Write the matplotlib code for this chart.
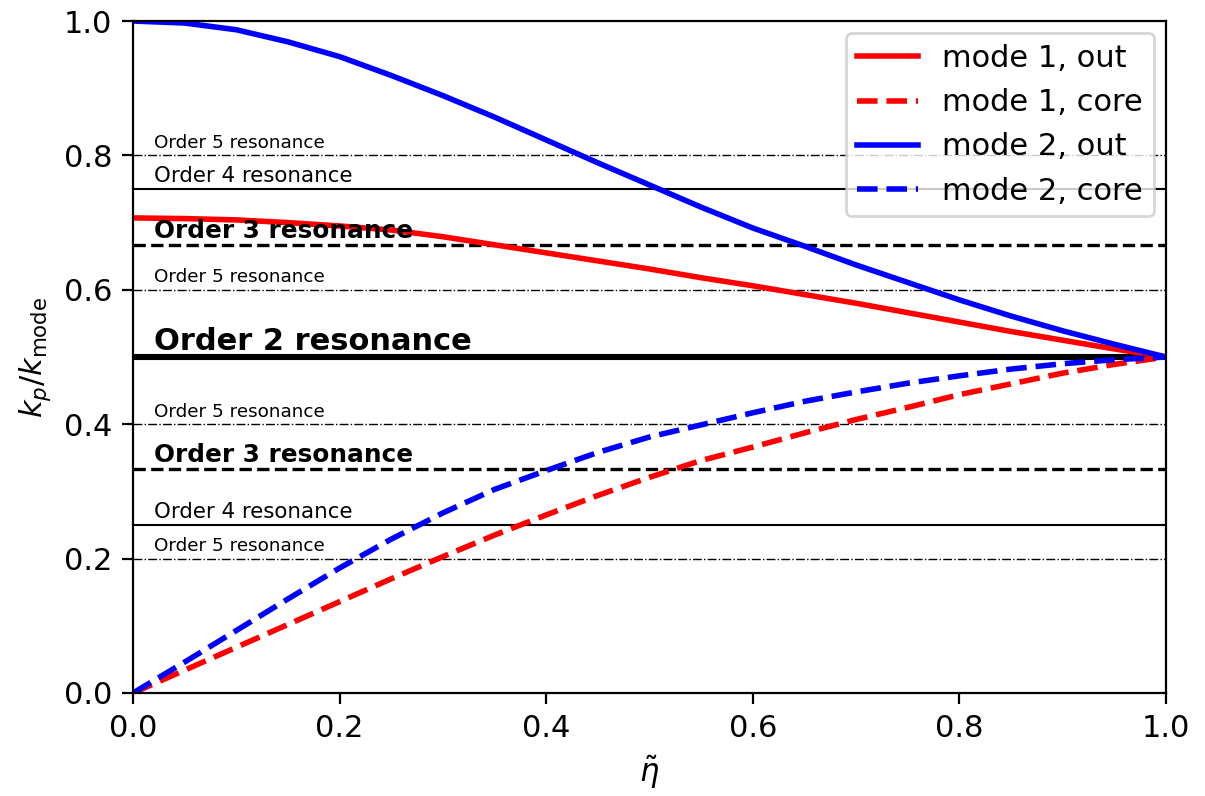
import matplotlib
matplotlib.use("Agg")
import matplotlib.pyplot as plt

plt.rcParams['font.size'] = 11
plt.rcParams['xtick.major.size'] = 3.9
plt.rcParams['ytick.major.size'] = 3.9

eta = [0.00, 0.05, 0.10, 0.15, 0.20, 0.25, 0.30, 0.35, 0.40, 0.45, 0.50,
       0.55, 0.60, 0.65, 0.70, 0.75, 0.80, 0.85, 0.90, 0.95, 1.00]

mode1_out = [0.707, 0.706, 0.704, 0.700, 0.695, 0.689, 0.679, 0.667, 0.655, 0.643, 0.631,
             0.618, 0.606, 0.593, 0.580, 0.566, 0.552, 0.538, 0.525, 0.512, 0.500]
mode1_core = [0.000, 0.034, 0.068, 0.102, 0.136, 0.170, 0.203, 0.235, 0.265, 0.294, 0.321,
              0.346, 0.366, 0.387, 0.407, 0.425, 0.444, 0.460, 0.476, 0.489, 0.500]
mode2_out = [1.000, 0.997, 0.987, 0.969, 0.947, 0.919, 0.889, 0.857, 0.823, 0.789, 0.756,
             0.723, 0.692, 0.665, 0.637, 0.611, 0.585, 0.561, 0.539, 0.519, 0.500]
mode2_core = [0.000, 0.046, 0.093, 0.140, 0.186, 0.229, 0.268, 0.303, 0.331, 0.358, 0.381,
              0.399, 0.417, 0.434, 0.448, 0.461, 0.472, 0.482, 0.490, 0.496, 0.500]

# resonance levels
res_levels = [0.8, 0.75, 2/3, 0.6, 0.5, 0.4, 1/3, 0.25, 0.2]
res_orders = [5, 4, 3, 5, 2, 5, 3, 4, 5]
res_labels = ["Order %d resonance" % o for o in res_orders]

style = {
    2: dict(ls='-', lw=2.2, fs=11, fw='bold'),
    3: dict(ls='--', lw=1.2, fs=8.9, fw='bold'),
    4: dict(ls='-', lw=0.75, fs=7.7, fw='normal'),
    5: dict(ls='-.', lw=0.5, fs=6.6, fw='normal'),
}

fig = plt.figure(figsize=(6.025, 3.98), dpi=200)
ax = fig.add_subplot(111)
fig.subplots_adjust(left=0.1104, right=0.9676, top=0.9736, bottom=0.1294)

for lvl, order, lab in zip(res_levels, res_orders, res_labels):
    s = style[order]
    ax.axhline(lvl, color='k', ls=s['ls'], lw=s['lw'])
    ax.text(0.02, lvl + 0.011, lab, fontsize=s['fs'], fontweight=s['fw'],
            va='baseline', ha='left')

ax.plot(eta, mode1_out, color='red', ls='-', lw=2, label='mode 1, out')
ax.plot(eta, mode1_core, color='red', ls='--', lw=2, label='mode 1, core')
ax.plot(eta, mode2_out, color='blue', ls='-', lw=2, label='mode 2, out')
ax.plot(eta, mode2_core, color='blue', ls='--', lw=2, label='mode 2, core')

ax.set_xlim(0, 1)
ax.set_ylim(0, 1)
ax.set_xlabel(r'$\tilde{\eta}$')
ax.set_ylabel(r'$k_p/k_{\rm mode}$')
ax.legend(loc='upper right', borderpad=0.35, borderaxespad=0.4)

fig.savefig('out.png', dpi=200)
